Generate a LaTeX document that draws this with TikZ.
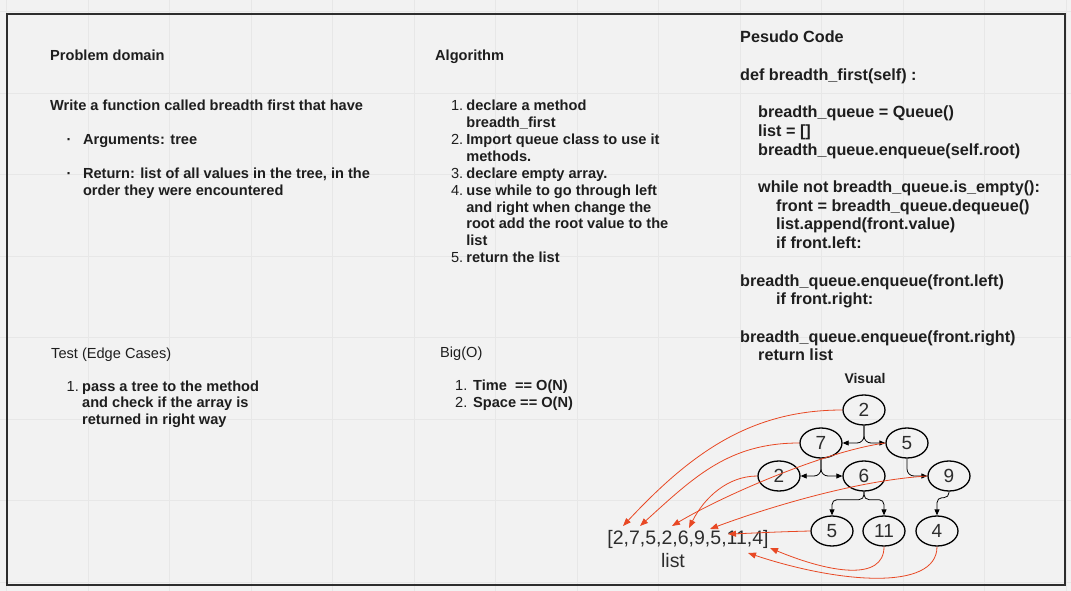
\documentclass[tikz,border=0pt]{standalone}
\usepackage{fontspec}
\setmainfont{Liberation Sans}
\usepackage{array}
\usetikzlibrary{shapes.geometric, arrows.meta, positioning}
\definecolor{canvas}{RGB}{242,242,242}
\definecolor{gridgray}{RGB}{231,231,231}
\definecolor{framedark}{RGB}{45,45,45}
\definecolor{textdark}{RGB}{30,30,30}
\definecolor{treegray}{RGB}{45,45,45}
\definecolor{bfsred}{RGB}{232,72,36}
\tikzset{
  heading/.style={anchor=base west, inner sep=0pt, text=textdark,
    font=\fontsize{14.6}{16.7}\selectfont\bfseries},
  plainhead/.style={anchor=base west, inner sep=0pt, text=textdark,
    font=\fontsize{14.6}{16.7}\selectfont},
  listblk/.style={anchor=base west, inner sep=0pt, text=textdark,
    font=\fontsize{14.6}{16.85}\selectfont},
  codeblk/.style={anchor=base west, inner sep=0pt, text=textdark,
    font=\fontsize{16.2}{18.7}\selectfont\bfseries},
  tnode/.style={ellipse, draw=black, line width=1.3pt, minimum width=42pt,
    minimum height=30pt, inner sep=0pt, text=treegray,
    font=\fontsize{19}{22}\selectfont},
  tedge/.style={-{Triangle[length=6pt,width=5pt]}, line width=0.8pt,
    color=black, rounded corners=7pt},
  redarrow/.style={-{Triangle[length=8pt,width=6pt]}, line width=0.8pt,
    color=bfsred},
  gridline/.style={gridgray, line width=0.8pt}
}

\begin{document}
\begin{tikzpicture}[x=1pt, y=-1pt]
  \useasboundingbox (0,0) rectangle (1071,591);
  % canvas and grid
  \fill[canvas] (0,0) rectangle (1071,591);
  \foreach \gx in {0,...,13}
    \draw[gridline] ({6.8+81.5*\gx},0) -- ++(0,591);
  \foreach \gy in {0,...,7}
    \draw[gridline] (0,{11.8+81.5*\gy}) -- ++(1071,0);
  \draw[framedark, line width=1.6pt] (7,14) rectangle (1065,585);

  % problem domain
  \node[heading] (prob) at (50,61) {Problem domain};
  \node[heading] (probtxt) at (50,111) {Write a function called breadth first that have};
  \node[listblk] (probpts) at (66.5,145) {%
    \begin{tabular}[t]{@{}>{\bfseries}l@{\hspace{11.5pt}}>{\bfseries}l@{}}
      \textperiodcentered & Arguments: tree\\
      & \\
      \textperiodcentered & Return: list of all values in the tree, in the\\
      & order they were encountered
    \end{tabular}};

  % algorithm
  \node[heading] (algo) at (435,61) {Algorithm};
  \node[listblk] (algopts) at (450.8,111) {%
    \begin{tabular}[t]{@{}r@{\hspace{3.2pt}}>{\bfseries}l@{}}
      1. & declare a method\\
         & breadth\_first\\
      2. & Import queue class to use it\\
         & methods.\\
      3. & declare empty array.\\
      4. & use while to go through left\\
         & and right when change the\\
         & root add the root value to the\\
         & list\\
      5. & return the list
    \end{tabular}};

  % pseudo code
  \node[codeblk] (pseudo) at (740,43) {%
    \begin{tabular}[t]{@{}l@{}}
      Pesudo Code\\
      \\
      def breadth\_first(self) :\\
      \\
      \hspace*{18pt}breadth\_queue = Queue()\\
      \hspace*{18pt}list = []\\
      \hspace*{18pt}breadth\_queue.enqueue(self.root)\\
      \\
      \hspace*{18pt}while not breadth\_queue.is\_empty():\\
      \hspace*{36pt}front = breadth\_queue.dequeue()\\
      \hspace*{36pt}list.append(front.value)\\
      \hspace*{36pt}if front.left:\\
      \\
      breadth\_queue.enqueue(front.left)\\
      \hspace*{36pt}if front.right:\\
      \\
      breadth\_queue.enqueue(front.right)\\
      \hspace*{18pt}return list
    \end{tabular}};

  % test and big o
  \node[plainhead] (test) at (51,358) {Test (Edge Cases)};
  \node[listblk] (testpts) at (66.5,391) {%
    \begin{tabular}[t]{@{}r@{\hspace{3.3pt}}>{\bfseries}l@{}}
      1. & pass a tree to the method\\
         & and check if the array is\\
         & returned in right way
    \end{tabular}};
  \node[plainhead] (bigo) at (440,357) {Big(O)};
  \node[listblk, font=\fontsize{14.6}{17.8}\selectfont] (bigopts) at (455,390) {%
    \begin{tabular}[t]{@{}r@{\hspace{5.8pt}}>{\bfseries}l@{}}
      1. & Time\ \ == O(N)\\
      2. & Space == O(N)
    \end{tabular}};

  % visual tree
  \node[anchor=base, inner sep=0pt, text=textdark,
        font=\fontsize{14}{16}\selectfont\bfseries] (visual) at (865,383) {Visual};
  \node[tnode] (r2) at (864,410) {2};
  \node[tnode] (n7) at (821,443) {7};
  \node[tnode] (n5) at (907,443) {5};
  \node[tnode] (n2) at (779,476) {2};
  \node[tnode] (n6) at (864,476) {6};
  \node[tnode] (n9) at (949,476) {9};
  \node[tnode] (m5) at (832,531) {5};
  \node[tnode] (m11) at (884,531) {11};
  \node[tnode] (m4) at (937,531) {4};

  \draw[tedge] (r2.south) |- (n7.east);
  \draw[tedge] (r2.south) |- (n5.west);
  \draw[tedge] (n7.south) |- (n2.east);
  \draw[tedge] (n7.south) |- (n6.west);
  \draw[tedge] (n5.south) |- (n9.west);
  \draw[tedge, rounded corners=5pt] (n6.south) -- ++(0,8) -| (m5.north);
  \draw[tedge, rounded corners=5pt] (n6.south) -- ++(0,8) -| (m11.north);
  \draw[tedge, rounded corners=5pt] (n9.south) -- ++(0,6) -| (m4.north);

  % result list
  \node[anchor=base, inner sep=0pt, text=treegray,
        font=\fontsize{19.5}{22}\selectfont] (lst) at (688,544) {[2,7,5,2,6,9,5,11,4]};
  \node[anchor=base, inner sep=0pt, text=treegray,
        font=\fontsize{19.5}{22}\selectfont] (lstname) at (673,567) {list};
  \coordinate (t1) at (623,526);
  \coordinate (t2) at (640,526);
  \coordinate (t3) at (672,526);
  \coordinate (t4) at (689,528);
  \coordinate (t5) at (710,529);
  \coordinate (t6) at (728,534);
  \coordinate (t7) at (748,553);
  \coordinate (t8) at (770,548);

  \draw[redarrow] (r2.west) .. controls +(-90,0) and +(70,-75) .. (t1);
  \draw[redarrow] (n7.west) .. controls +(-70,0) and +(55,-50) .. (t2);
  \draw[redarrow] (n5.west) .. controls +(-60,8) and +(50,-30) .. (t3);
  \draw[redarrow] (n2.west) .. controls +(-30,0) and +(15,-30) .. (t4);
  \draw[redarrow] (n9.west) .. controls +(-80,5) and +(40,-15) .. (t5);
  \draw[redarrow] (m5.west) .. controls +(-40,1) and +(30,-1) .. (t6);
  \draw[redarrow] (m11.south) .. controls +(0,35) and +(60,25) .. (t8);
  \draw[redarrow] (m4.south) .. controls +(0,45) and +(90,30) .. (t7);
\end{tikzpicture}
\end{document}
